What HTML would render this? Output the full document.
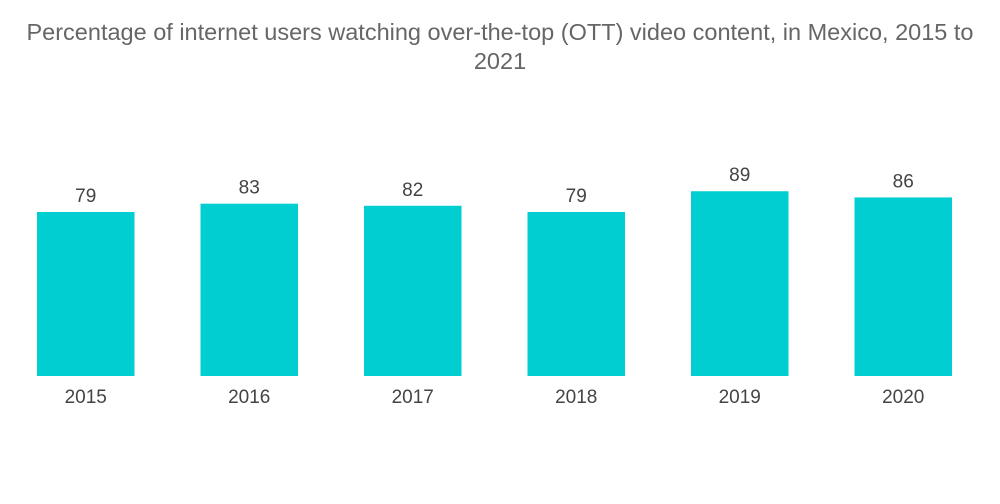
<!DOCTYPE html>
<html><head><meta charset="utf-8"><style>
body{margin:0;background:#fff;width:1000px;height:504px;overflow:hidden;font-family:"Liberation Sans",sans-serif}
#title{position:absolute;left:0;top:18px;width:1000px;text-align:center;color:#666;font-size:23.5px;line-height:29px}
</style></head><body>
<div id="title">Percentage of internet users watching over-the-top (OTT) video content, in Mexico, 2015 to<br>2021</div>
<svg id="chart" width="1000" height="504" style="position:absolute;left:0;top:0"></svg>
<script>
const categories=["2015","2016","2017","2018","2019","2020"];
const values=[79,83,82,79,89,86];
const svg=document.getElementById('chart');
const NS='http://www.w3.org/2000/svg';
const baseY=376, pxPerUnit=2.076, x0=37, pitch=163.5, bw=97.5;
function xPos(i){return x0+i*pitch;}
function yPos(v){return baseY-v*pxPerUnit;}
categories.forEach((c,i)=>{
  const x=xPos(i), y=yPos(values[i]);
  const r=document.createElementNS(NS,'rect');
  r.setAttribute('x',x);r.setAttribute('y',y);r.setAttribute('width',bw);r.setAttribute('height',baseY-y);r.setAttribute('fill','#00ced1');
  
  
  svg.appendChild(r);
  const t=document.createElementNS(NS,'text');
  t.setAttribute('x',x+bw/2);t.setAttribute('y',y-10);t.setAttribute('text-anchor','middle');t.setAttribute('font-size','19');t.setAttribute('fill','#444');t.setAttribute('font-family','Liberation Sans, sans-serif');
  t.textContent=values[i];
  
  
  svg.appendChild(t);
  const l=document.createElementNS(NS,'text');
  l.setAttribute('x',x+bw/2);l.setAttribute('y',403);l.setAttribute('text-anchor','middle');l.setAttribute('font-size','19');l.setAttribute('fill','#444');l.setAttribute('font-family','Liberation Sans, sans-serif');
  l.textContent=c;
  
  
  svg.appendChild(l);
});
</script>
</body></html>
